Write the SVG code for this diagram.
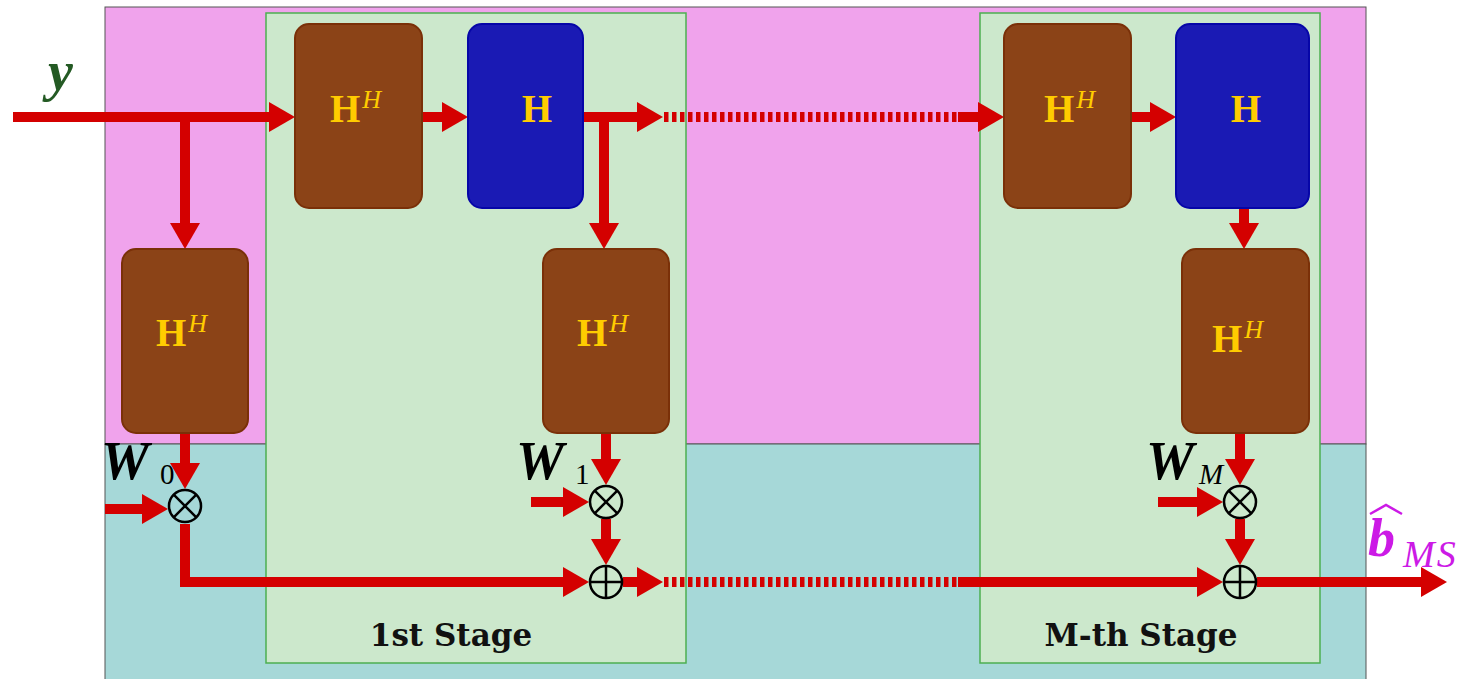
<svg xmlns="http://www.w3.org/2000/svg" width="1467" height="679" viewBox="0 0 1467 679">
<defs>
<style>
.bn{fill:#8b4317;stroke:#7a3008;stroke-width:2}
.bl{fill:#1a1ab4;stroke:#0606a8;stroke-width:2}
.stg{fill:#cce8cc;stroke:#4caf50;stroke-width:1.5}
.ln{stroke:#d40000;stroke-width:10;fill:none}
.dt{stroke:#d40000;stroke-width:10;fill:none;stroke-dasharray:4.5 3.5}
.op{fill:none;stroke:#000;stroke-width:2.5}
.lbl{font-family:"Liberation Serif",serif;font-weight:bold;fill:#ffcc00;font-size:39px}
.sup{font-family:"Liberation Serif",serif;font-style:italic;font-weight:normal;fill:#ffcc00;font-size:26px}
.st{font-family:"DejaVu Serif",serif;font-weight:bold;fill:#111;font-size:31px}
.w{font-family:"Liberation Serif",serif;font-weight:bold;font-style:italic;fill:#000;font-size:54px}
.sub{font-family:"Liberation Serif",serif;font-weight:normal;fill:#000;font-size:29px}
</style>
<marker id="ah" markerWidth="26" markerHeight="30" refX="6" refY="15" orient="auto" markerUnits="userSpaceOnUse">
<path d="M0,0 L26,15 L0,30 Z" fill="#d40000"/>
</marker>
</defs>
<g id="background">
<rect x="105" y="7" width="1261" height="437" fill="#f0a3ec" stroke="#555" stroke-width="1"/>
<rect x="105" y="444" width="1261" height="240" fill="#a6d8d8" stroke="#555" stroke-width="1"/>
</g>
<g id="stage1">
<rect class="stg" x="266" y="13" width="420" height="650"/>
<text class="st" x="451" y="646" text-anchor="middle">1st Stage</text>
</g>
<g id="stageM">
<rect class="stg" x="980" y="13" width="340" height="650"/>
<text class="st" x="1141" y="646" text-anchor="middle">M-th Stage</text>
</g>
<g id="connectors">
<path class="ln" d="M13,117 H275" marker-end="url(#ah)"/>
<path class="ln" d="M185,122 V229" marker-end="url(#ah)"/>
<path class="ln" d="M422,117 H448" marker-end="url(#ah)"/>
<path class="ln" d="M583,117 H643" marker-end="url(#ah)"/>
<path class="dt" d="M664,117 H958"/>
<path class="ln" d="M958,117 H984" marker-end="url(#ah)"/>
<path class="ln" d="M604,117 V229" marker-end="url(#ah)"/>
<path class="ln" d="M1131,117 H1156" marker-end="url(#ah)"/>
<path class="ln" d="M1244,208 V229" marker-end="url(#ah)"/>
<path class="ln" d="M185,433 V469" marker-end="url(#ah)"/>
<path class="ln" d="M105,509 H148" marker-end="url(#ah)"/>
<path class="ln" d="M185,524 V582 H569" marker-end="url(#ah)"/>
<path class="ln" d="M606,433 V465" marker-end="url(#ah)"/>
<path class="ln" d="M531,502 H569" marker-end="url(#ah)"/>
<path class="ln" d="M606,519 V545" marker-end="url(#ah)"/>
<path class="ln" d="M623,582 H643" marker-end="url(#ah)"/>
<path class="dt" d="M664,582 H958"/>
<path class="ln" d="M958,582 H1203" marker-end="url(#ah)"/>
<path class="ln" d="M1240,433 V465" marker-end="url(#ah)"/>
<path class="ln" d="M1158,502 H1203" marker-end="url(#ah)"/>
<path class="ln" d="M1240,519 V545" marker-end="url(#ah)"/>
<path class="ln" d="M1257,582 H1427" marker-end="url(#ah)"/>
</g>
<g id="HH0">
<rect class="bn" x="122" y="249" width="126" height="184" rx="14"/>
<text class="lbl" x="156" y="346">H<tspan class="sup" dx="2" dy="-14">H</tspan></text>
</g>
<g id="HH1">
<rect class="bn" x="295" y="24" width="127" height="184" rx="14"/>
<text class="lbl" x="330" y="122">H<tspan class="sup" dx="2" dy="-14">H</tspan></text>
</g>
<g id="H1">
<rect class="bl" x="468" y="24" width="115" height="184" rx="14"/>
<text class="lbl" x="537" y="122" text-anchor="middle">H</text>
</g>
<g id="HH1b">
<rect class="bn" x="543" y="249" width="126" height="184" rx="14"/>
<text class="lbl" x="577" y="346">H<tspan class="sup" dx="2" dy="-14">H</tspan></text>
</g>
<g id="HHM">
<rect class="bn" x="1004" y="24" width="127" height="184" rx="14"/>
<text class="lbl" x="1044" y="122">H<tspan class="sup" dx="2" dy="-14">H</tspan></text>
</g>
<g id="HM">
<rect class="bl" x="1176" y="24" width="133" height="184" rx="14"/>
<text class="lbl" x="1246" y="122" text-anchor="middle">H</text>
</g>
<g id="HHMb">
<rect class="bn" x="1182" y="249" width="127" height="184" rx="14"/>
<text class="lbl" x="1212" y="352">H<tspan class="sup" dx="2" dy="-14">H</tspan></text>
</g>
<g id="mult0">
<circle class="op" cx="185" cy="506" r="16"/>
<path class="op" d="M173.7,494.7 L196.3,517.3 M196.3,494.7 L173.7,517.3"/>
</g>
<g id="mult1">
<circle class="op" cx="606" cy="502" r="16"/>
<path class="op" d="M594.7,490.7 L617.3,513.3 M617.3,490.7 L594.7,513.3"/>
</g>
<g id="multM">
<circle class="op" cx="1240" cy="502" r="16"/>
<path class="op" d="M1228.7,490.7 L1251.3,513.3 M1251.3,490.7 L1228.7,513.3"/>
</g>
<g id="add1">
<circle class="op" cx="606" cy="582" r="16"/>
<path class="op" d="M590,582 H622 M606,566 V598"/>
</g>
<g id="addM">
<circle class="op" cx="1240" cy="582" r="16"/>
<path class="op" d="M1224,582 H1256 M1240,566 V598"/>
</g>
<g id="labels">
<text x="48" y="90" font-family="Liberation Serif,serif" font-weight="bold" font-style="italic" font-size="56" fill="#245a24">y</text>
<text class="w" x="101" y="479">W</text>
<text class="sub" x="160" y="484">0</text>
<text class="w" x="516" y="479">W</text>
<text class="sub" x="575" y="484">1</text>
<text class="w" x="1146" y="479">W</text>
<text class="sub" x="1199" y="484" font-style="italic">M</text>
<text x="1368" y="556" font-family="Liberation Serif,serif" font-weight="bold" font-style="italic" font-size="54" fill="#cc1ae6">b</text>
<path d="M1370,514 L1386,505 L1402,514" fill="none" stroke="#cc1ae6" stroke-width="2.5"/>
<text x="1403" y="567" font-family="Liberation Serif,serif" font-style="italic" font-size="38" letter-spacing="2" fill="#cc1ae6">MS</text>
</g>
</svg>
